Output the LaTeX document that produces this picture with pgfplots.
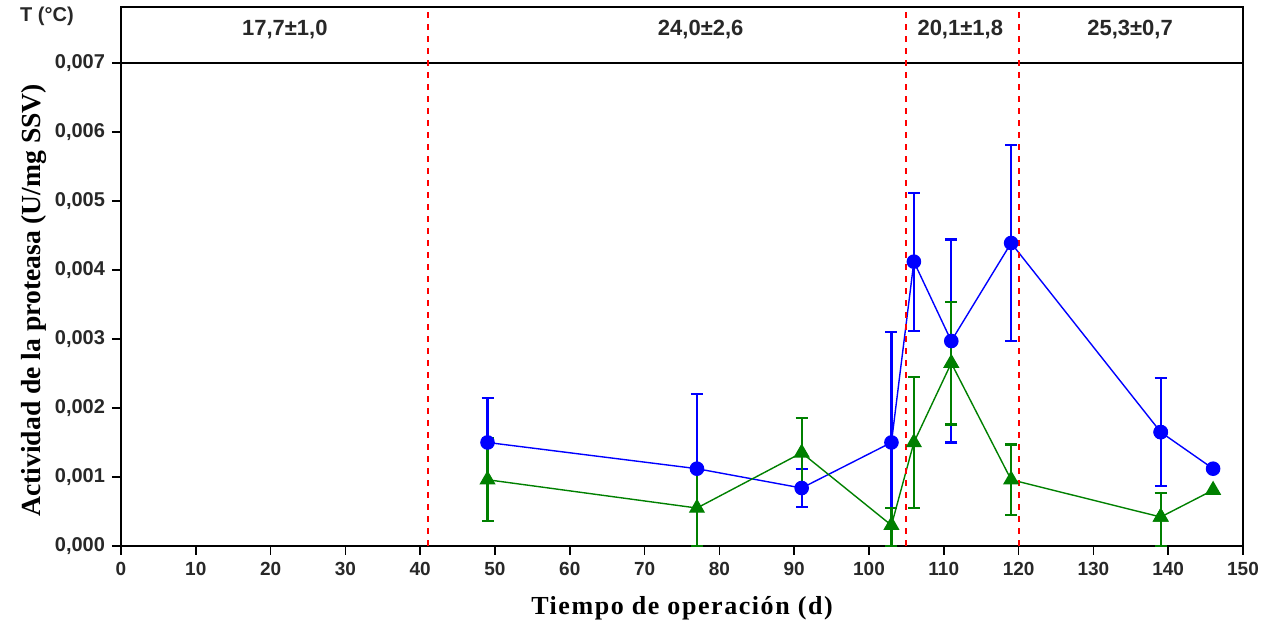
\documentclass[border=0pt]{standalone}
\usepackage{fontspec}
\setmainfont{Liberation Sans}
\newfontfamily\labfont[LetterSpace=6]{Liberation Serif}
\newfontfamily\ylabfont{Liberation Serif}
\usepackage{pgfplots}
\pgfplotsset{compat=1.18}
\definecolor{mblue}{RGB}{0,0,255}
\definecolor{mgreen}{RGB}{0,128,0}
\definecolor{txt}{RGB}{40,40,40}
\begin{document}
\begin{tikzpicture}
\useasboundingbox (-60.5pt,-39.5pt) rectangle (574pt,273pt);
\begin{axis}[
  at={(0,0)}, anchor=south west,
  scale only axis, width=561pt, height=269.5pt,
  xmin=0, xmax=150, ymin=0, ymax=0.00781,
  clip=false,
  axis line style={line width=1pt},
  tick align=outside, tick pos=left,
  major tick length=4.5pt,
  tick style={line width=0.8pt, black},
  xtick={0,10,...,150},
  ytick={0,0.001,0.002,0.003,0.004,0.005,0.006,0.007},
  yticklabels={{0,000},{0,001},{0,002},{0,003},{0,004},{0,005},{0,006},{0,007}},
  scaled y ticks=false,
  /pgf/number format/assume math mode=true,
  xticklabel style={font=\bfseries\fontsize{9.5}{11}\selectfont, text=txt},
  yticklabel style={font=\bfseries\fontsize{10}{12}\selectfont, text=txt},
  xlabel={\labfont\bfseries Tiempo de operación (d)},
  xlabel style={at={(axis description cs:0.5,-0.115)}, anchor=center, font=\fontsize{13}{15}\selectfont},
  ylabel={\ylabfont\bfseries Actividad de la proteasa (U/mg SSV)},
  ylabel style={at={(axis description cs:-0.078,0.456)}, anchor=center, rotate=0, font=\fontsize{13.8}{16}\selectfont},
]
% blue series
\addplot[mblue, line width=0.7pt, mark=*, mark size=3.3pt, mark options={solid},
  error bars/.cd, y dir=both, y explicit,
  error bar style={line width=1.1pt, mblue},
  error mark options={rotate=90, mblue, mark size=3pt, line width=1.1pt}]
  coordinates {
  (49,0.00150) += (0,0.00064) -= (0,0)
  (77,0.00112) += (0,0.00108) -= (0,0)
  (91,0.00084) +- (0,0.00028)
  (103,0.00150) += (0,0.0016) -= (0,0.0015)
  (106,0.00412) +- (0,0.0010)
  (111,0.00297) +- (0,0.00147)
  (119,0.00439) +- (0,0.00142)
  (139,0.00165) +- (0,0.00078)
  };
\addplot[mblue, line width=0.7pt, mark=*, mark size=3.3pt] coordinates {(139,0.00165) (146,0.00112)};
% green series
\addplot[mgreen, line width=0.7pt, mark=triangle*, mark size=4pt, mark options={solid},
  error bars/.cd, y dir=both, y explicit,
  error bar style={line width=1.1pt, mgreen},
  error mark options={rotate=90, mgreen, mark size=3pt, line width=1.1pt}]
  coordinates {
  (49,0.00096) +- (0,0.0006)
  (77,0.00055) +- (0,0.00055)
  (91,0.00135) +- (0,0.0005)
  (103,0.00030) += (0,0.00025) -= (0,0.0003)
  (106,0.00150) +- (0,0.00095)
  (111,0.00265) +- (0,0.00089)
  (119,0.00096) +- (0,0.00051)
  (139,0.00042) += (0,0.00035) -= (0,0.00042)
  };
\addplot[mgreen, line width=0.7pt, mark=triangle*, mark size=4pt] coordinates {(139,0.00042) (146,0.00081)};
% separators
\draw[line width=0.9pt] (axis cs:0,0.007) -- (axis cs:150,0.007);
\draw[red, line width=1pt, dash pattern=on 3pt off 3pt] (axis cs:41,0) -- (axis cs:41,0.00781);
\draw[red, line width=1pt, dash pattern=on 3pt off 3pt] (axis cs:105,0) -- (axis cs:105,0.00781);
\draw[red, line width=1pt, dash pattern=on 3pt off 3pt] (axis cs:120,0) -- (axis cs:120,0.00781);
\node[font=\bfseries\fontsize{11}{13}\selectfont, text=txt] at (axis cs:21.9,0.00748) {17,7±1,0};
\node[font=\bfseries\fontsize{11}{13}\selectfont, text=txt] at (axis cs:77.5,0.00748) {24,0±2,6};
\node[font=\bfseries\fontsize{11}{13}\selectfont, text=txt] at (axis cs:112.2,0.00748) {20,1±1,8};
\node[font=\bfseries\fontsize{11}{13}\selectfont, text=txt] at (axis cs:134.9,0.00748) {25,3±0,7};
\node[font=\bfseries\fontsize{10}{12}\selectfont, text=txt] at (axis cs:-9.9,0.00767) {T (°C)};
\end{axis}
\end{tikzpicture}
\end{document}
